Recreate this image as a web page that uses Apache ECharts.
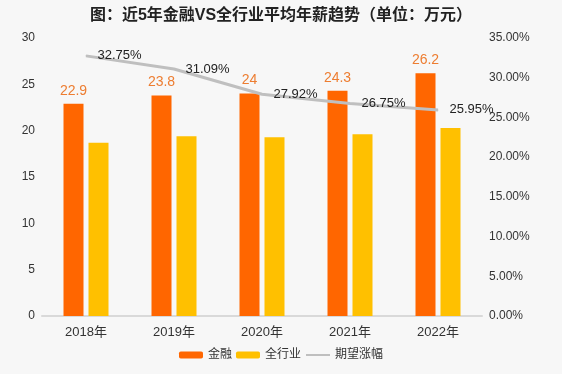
<!DOCTYPE html>
<html>
<head>
<meta charset="utf-8">
<script src="https://cdn.jsdelivr.net/npm/echarts@6/dist/echarts.min.js"></script>
<style>
html,body{margin:0;padding:0;background:#F7F7F7;}
#c{width:562px;height:374px;}
</style>
</head>
<body>
<div id="c"></div>
<script>
var titleText = '图：近5年金融VS全行业平均年薪趋势（单位：万元）';
var categories = ['2018年', '2019年', '2020年', '2021年', '2022年'];
var finance = [22.9, 23.8, 24, 24.3, 26.2];
var allIndustry = [18.7, 19.4, 19.3, 19.6, 20.3];
var growth = [32.75, 31.09, 27.92, 26.75, 25.95];
var seriesNames = ['金融', '全行业', '期望涨幅'];

var FONT = 'Arial, "Liberation Sans", "Noto Sans CJK SC", sans-serif';
var chart = echarts.init(document.getElementById('c'));
chart.setOption({
  backgroundColor: '#F7F7F7',
  textStyle: { fontFamily: FONT },
  title: {
    text: titleText, left: 'center', top: 3,
    textStyle: { fontSize: 16, fontWeight: 'bold', color: '#222', fontFamily: FONT }
  },
  legend: {
    bottom: 8, left: 'center', itemWidth: 24, itemHeight: 7, itemGap: 4,
    textStyle: { fontSize: 12, color: '#333' },
    data: [
      { name: seriesNames[0] },
      { name: seriesNames[1] },
      { name: seriesNames[2], itemStyle: { opacity: 0 }, lineStyle: { width: 2, color: '#BFBFBF' } }
    ]
  },
  grid: { left: 42, right: 80, top: 38, bottom: 58 },
  xAxis: {
    type: 'category', data: categories,
    axisLine: { lineStyle: { color: '#D9D9D9', width: 2 } },
    axisTick: { show: false },
    axisLabel: { fontSize: 13, color: '#333', margin: 10 }
  },
  yAxis: [{
    type: 'value', min: 0, max: 30, interval: 5,
    axisLine: { show: false }, axisTick: { show: false },
    splitLine: { show: false },
    axisLabel: { fontSize: 12, color: '#333', margin: 7 }
  }, {
    type: 'value', min: 0, max: 35, interval: 5,
    axisLine: { show: false }, axisTick: { show: false },
    splitLine: { show: false },
    axisLabel: { fontSize: 12, color: '#333', margin: 7, formatter: function (v) { return v.toFixed(2) + '%'; } }
  }],
  series: [{
    name: seriesNames[0], type: 'bar', data: finance, barWidth: 20, barGap: '25%',
    itemStyle: { color: '#FF6600' },
    label: { show: true, position: 'top', distance: 6, color: '#ED7D31', fontSize: 14 }
  }, {
    name: seriesNames[1], type: 'bar', data: allIndustry, barWidth: 20, barGap: '25%',
    itemStyle: { color: '#FFC000' }
  }, {
    name: seriesNames[2], type: 'line', yAxisIndex: 1, data: growth,
    symbol: 'circle', symbolSize: 1, showSymbol: true,
    lineStyle: { color: '#BFBFBF', width: 3 },
    itemStyle: { color: '#BFBFBF' },
    label: { show: true, position: 'right', distance: 11, color: '#222', fontSize: 13,
      formatter: function (p) { return p.value.toFixed(2) + '%'; } },
    z: 5
  }]
});
</script>
</body>
</html>
